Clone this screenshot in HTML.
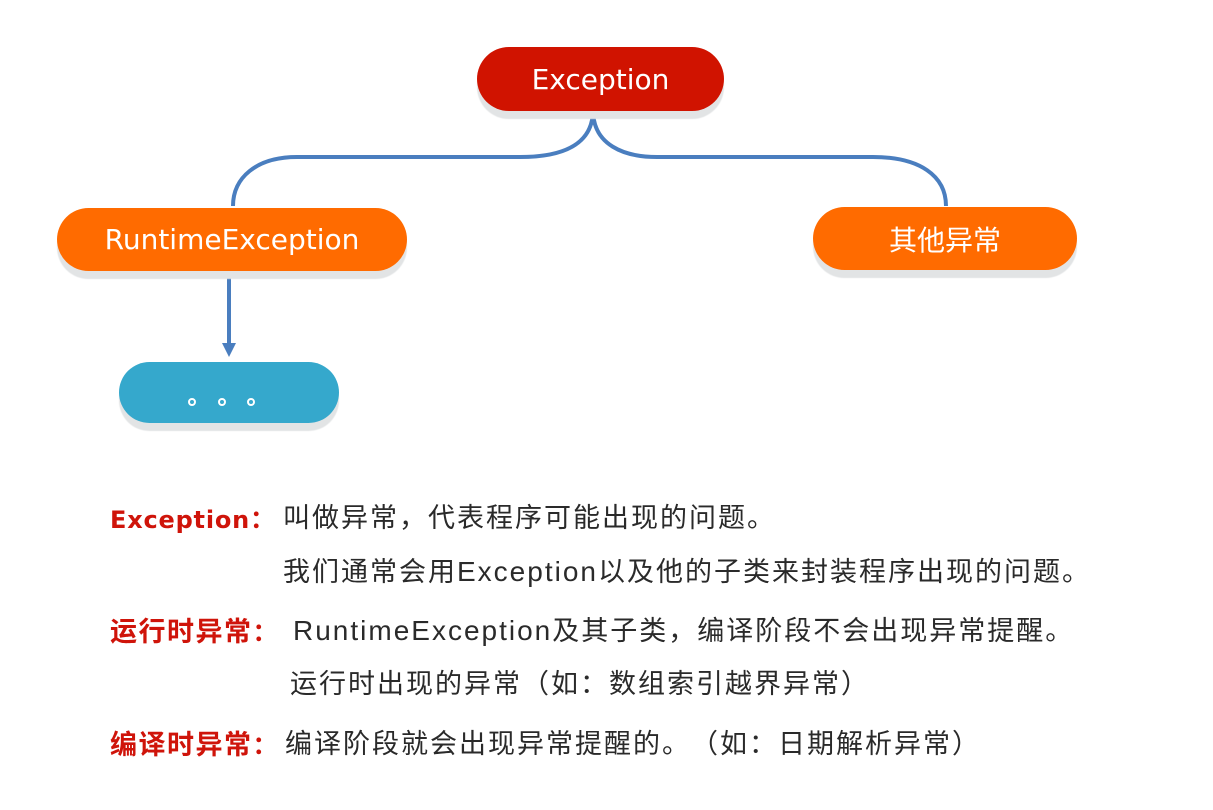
<!DOCTYPE html>
<html>
<head>
<meta charset="utf-8">
<style>
  html, body { margin:0; padding:0; }
  body { width:1213px; height:810px; background:#fff; position:relative; overflow:hidden; text-spacing-trim: space-all; }
  .pill { position:absolute; display:flex; align-items:center; justify-content:center; color:#fff;
          box-shadow: 0 8px 1px #e2e4e5; }
  .lat { font-family:"DejaVu Sans","Liberation Sans",sans-serif; font-size:28px; }
  .cjk { font-family:"Liberation Sans","Noto Sans CJK SC",sans-serif; font-size:28px; }
  .line { position:absolute; height:40px; line-height:40px; white-space:nowrap; text-spacing-trim: space-all;
          font-family:"Liberation Sans","Noto Sans CJK SC",sans-serif; font-size:27px; letter-spacing:2px; color:#2a2a2a; }
  .line .l { font-size:28px; }
  .red { color:#cf140a; font-weight:bold; }
  .redlat { font-family:"DejaVu Sans","Liberation Sans",sans-serif; font-size:24px; letter-spacing:0.8px; font-weight:bold; }
  .redcjk { font-family:"Liberation Sans","Noto Sans CJK SC",sans-serif; font-size:27px; letter-spacing:1.5px; font-weight:bold; }
  .redcol { font-family:"Noto Sans CJK SC",sans-serif; font-size:25px; font-weight:bold; letter-spacing:0; }
</style>
</head>
<body>
<svg width="1213" height="810" style="position:absolute;left:0;top:0" xmlns="http://www.w3.org/2000/svg">
  <path d="M593,110 C593,145 562,157 520,157 L297,157 C256,157 233,178 233,206" fill="none" stroke="#4a7ebf" stroke-width="4"/>
  <path d="M593,110 C593,145 624,157 657,157 L873,157 C920,157 946,176 946,206" fill="none" stroke="#4a7ebf" stroke-width="4"/>
  <line x1="229" y1="270" x2="229" y2="346" stroke="#4a7ebf" stroke-width="4"/>
  <polygon points="222,343 236,343 229,357" fill="#4a7ebf"/>
</svg>

<div class="pill lat" style="left:477px;top:47px;width:247px;height:64px;border-radius:32px;background:#d01300;">Exception</div>
<div class="pill lat" style="left:57px;top:208px;width:350px;height:63px;border-radius:32px;background:#ff6b00;">RuntimeException</div>
<div class="pill cjk" style="left:813px;top:207px;width:264px;height:63px;border-radius:32px;background:#ff6b00;">其他异常</div>
<div class="pill" style="left:119px;top:362px;width:220px;height:61px;border-radius:31px;background:#35a8cc;"></div>
<svg width="1213" height="810" style="position:absolute;left:0;top:0" xmlns="http://www.w3.org/2000/svg">
  <circle cx="192" cy="402" r="3" fill="none" stroke="#fff" stroke-width="2"/>
  <circle cx="222" cy="402" r="3" fill="none" stroke="#fff" stroke-width="2"/>
  <circle cx="251" cy="402" r="3" fill="none" stroke="#fff" stroke-width="2"/>
</svg>

<div class="line" style="left:110px;top:498px;"><span class="red redlat">Exception</span><span class="red redcol">：</span></div>
<div class="line" style="left:283px;top:498px;">叫做异常，代表程序可能出现的问题。</div>
<div class="line" style="left:283px;top:552px;">我们通常会用<span class="l">Exception</span>以及他的子类来封装程序出现的问题。</div>

<div class="line" style="left:110px;top:611px;"><span class="red redcjk">运行时异常</span><span class="red redcol">：</span></div>
<div class="line" style="left:293px;top:611px;"><span class="l">RuntimeException</span>及其子类，编译阶段不会出现异常提醒。</div>
<div class="line" style="left:290px;top:664px;">运行时出现的异常（如：数组索引越界异常）</div>

<div class="line" style="left:110px;top:724px;"><span class="red redcjk">编译时异常</span><span class="red redcol">：</span></div>
<div class="line" style="left:285px;top:724px;">编译阶段就会出现异常提醒的。（如：日期解析异常）</div>
</body>
</html>
